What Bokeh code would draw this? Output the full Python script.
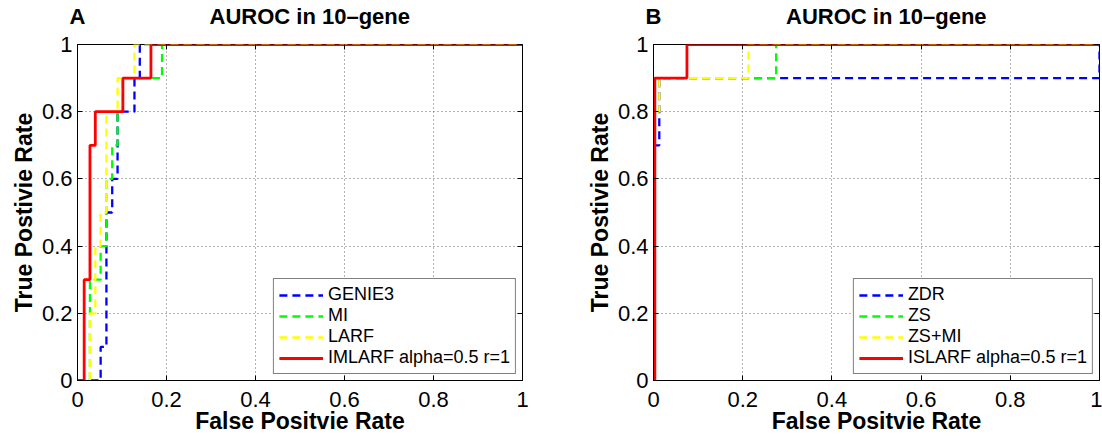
from bokeh.plotting import figure
from bokeh.layouts import row
from bokeh.models import Range1d, FixedTicker, Legend, LegendItem, LinearAxis
from bokeh.embed import file_html
from bokeh.resources import INLINE

# ---------------- data ----------------
tick_values = [0, 0.2, 0.4, 0.6, 0.8, 1]
tick_labels = ["0", "0.2", "0.4", "0.6", "0.8", "1"]

panel_letters = ["A", "B"]
panel_titles = ["AUROC in 10\u2013gene", "AUROC in 10\u2013gene"]
x_label = "False Positvie Rate"
y_label = "True Postivie Rate"

# Panel A
a_names = ["GENIE3", "MI", "LARF", "IMLARF alpha=0.5 r=1"]
a_genie3_fpr = [0, 0.052, 0.052, 0.065, 0.065, 0.078, 0.078, 0.09, 0.09, 0.128, 0.128, 0.14, 0.14, 1]
a_genie3_tpr = [0, 0, 0.1, 0.1, 0.5, 0.5, 0.6, 0.6, 0.8, 0.8, 0.9, 0.9, 1, 1]
a_mi_fpr = [0, 0.028, 0.028, 0.052, 0.052, 0.065, 0.065, 0.078, 0.078, 0.09, 0.09, 0.102, 0.102, 0.19, 0.19, 1]
a_mi_tpr = [0, 0, 0.3, 0.3, 0.4, 0.4, 0.6, 0.6, 0.7, 0.7, 0.8, 0.8, 0.9, 0.9, 1, 1]
a_larf_fpr = [0, 0.028, 0.028, 0.04, 0.04, 0.052, 0.052, 0.065, 0.065, 0.09, 0.09, 0.128, 0.128, 1]
a_larf_tpr = [0, 0, 0.2, 0.2, 0.4, 0.4, 0.5, 0.5, 0.8, 0.8, 0.9, 0.9, 1, 1]
a_imlarf_fpr = [0, 0.015, 0.015, 0.028, 0.028, 0.04, 0.04, 0.102, 0.102, 0.165, 0.165, 1]
a_imlarf_tpr = [0, 0, 0.3, 0.3, 0.7, 0.7, 0.8, 0.8, 0.9, 0.9, 1, 1]

# Panel B
b_names = ["ZDR", "ZS", "ZS+MI", "ISLARF alpha=0.5 r=1"]
b_zdr_fpr = [0, 0, 0.013, 0.013, 1, 1]
b_zdr_tpr = [0, 0.7, 0.7, 0.9, 0.9, 1]
b_zs_fpr = [0, 0, 0.275, 0.275, 1]
b_zs_tpr = [0, 0.9, 0.9, 1, 1]
b_zsmi_fpr = [0, 0, 0.013, 0.013, 0.213, 0.213, 1]
b_zsmi_tpr = [0, 0.8, 0.8, 0.9, 0.9, 1, 1]
b_islarf_fpr = [0.003, 0.003, 0.075, 0.075, 1]
b_islarf_tpr = [0, 0.9, 0.9, 1, 1]

# ---------------- styles ----------------
colors = ["#0000FF", "#00FF00", "#FFFF00", "#FF0000"]
dashes = ["8 5", "8 5", "8 5", "solid"]
widths = [2.3, 2.3, 2.3, 2.8]
FONT = "Liberation Sans"
H = 437
FRAME_TOP = 44
FRAME_H = 336
TITLE_POS = 0.522   # horizontal position (fraction of the x axis) of the panel heading


def tick_only_axis():
    ax = LinearAxis(ticker=FixedTicker(ticks=tick_values),
                    major_label_overrides={v: "" for v in tick_values})
    ax.major_label_text_font_size = "0px"
    ax.major_label_standoff = 0
    ax.major_tick_in = 5
    ax.major_tick_out = 0
    ax.minor_tick_in = 0
    ax.minor_tick_out = 0
    ax.major_tick_line_color = "black"
    ax.axis_line_color = None
    return ax


def make_panel(letter, title, names, series, width, bl, br):
    p = figure(width=width, height=H, x_range=Range1d(0, 1), y_range=Range1d(0, 1),
               output_backend="svg", toolbar_location=None,
               min_border_left=bl, min_border_right=br, min_border_top=FRAME_TOP,
               min_border_bottom=H - FRAME_TOP - FRAME_H)
    p.outline_line_color = "black"
    p.outline_line_width = 1
    p.outline_line_alpha = 1
    p.background_fill_color = "white"
    p.border_fill_color = "white"

    for ax in (p.xaxis[0], p.yaxis[0]):
        ax.ticker = FixedTicker(ticks=tick_values)
        ax.major_label_overrides = {v: l for v, l in zip(tick_values, tick_labels)}
        ax.major_label_text_font = FONT
        ax.major_label_text_font_size = "22px"
        ax.major_label_text_color = "black"
        ax.major_tick_in = 5
        ax.major_tick_out = 0
        ax.minor_tick_in = 0
        ax.minor_tick_out = 0
        ax.axis_line_color = "black"
        ax.major_tick_line_color = "black"
        ax.axis_label_text_font = FONT
        ax.axis_label_text_font_size = "23px"
        ax.axis_label_text_font_style = "bold"
        ax.axis_label_text_color = "black"
    p.xaxis.axis_label = x_label
    p.yaxis.axis_label = y_label
    p.xaxis.major_label_standoff = 11
    p.yaxis.major_label_standoff = 5
    p.xaxis.axis_label_standoff = -2
    p.yaxis.axis_label_standoff = 2

    # inward tick marks on the top and right edges (box style)
    p.add_layout(tick_only_axis(), "above")
    p.add_layout(tick_only_axis(), "right")

    # heading line: panel letter at the left edge and the panel title, on one baseline
    head = LinearAxis(ticker=FixedTicker(ticks=[0, TITLE_POS]),
                      major_label_overrides={0: letter, TITLE_POS: title})
    head.major_label_text_font = FONT
    head.major_label_text_font_size = "22px"
    head.major_label_text_font_style = "bold"
    head.major_label_text_color = "black"
    head.major_label_standoff = 16
    head.major_tick_in = 0
    head.major_tick_out = 0
    head.minor_tick_in = 0
    head.minor_tick_out = 0
    head.axis_line_color = None
    p.add_layout(head, "above")

    p.grid.grid_line_color = "#666666"
    p.grid.grid_line_dash = "1 3"
    p.grid.grid_line_width = 1

    items = []
    for name, (fpr, tpr), c, d, w in zip(names, series, colors, dashes, widths):
        r = p.line(fpr, tpr, line_color=c, line_width=w, line_dash=d)
        items.append(LegendItem(label=name, renderers=[r]))
    leg = Legend(items=items, location="bottom_right")
    leg.margin = 6
    leg.padding = 5
    leg.spacing = 0
    leg.label_height = 20
    leg.glyph_height = 20
    leg.glyph_width = 44
    leg.label_standoff = 5
    leg.label_text_font = FONT
    leg.label_text_font_size = "18px"
    leg.label_text_color = "black"
    leg.border_line_color = "black"
    leg.border_line_width = 1
    leg.background_fill_color = "white"
    leg.background_fill_alpha = 1
    p.add_layout(leg)
    return p


pA = make_panel(panel_letters[0], panel_titles[0], a_names,
                [(a_genie3_fpr, a_genie3_tpr), (a_mi_fpr, a_mi_tpr),
                 (a_larf_fpr, a_larf_tpr), (a_imlarf_fpr, a_imlarf_tpr)],
                width=582, bl=77, br=60)
pB = make_panel(panel_letters[1], panel_titles[1], b_names,
                [(b_zdr_fpr, b_zdr_tpr), (b_zs_fpr, b_zs_tpr),
                 (b_zsmi_fpr, b_zsmi_tpr), (b_islarf_fpr, b_islarf_tpr)],
                width=520, bl=71, br=3)

layout = row(pA, pB)
open("out.html", "w").write(file_html(layout, INLINE))
